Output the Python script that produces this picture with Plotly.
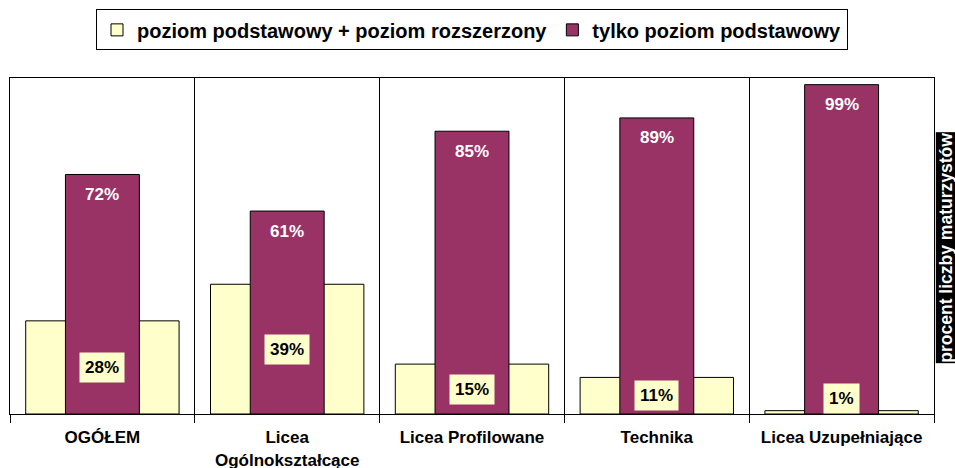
import plotly.graph_objects as go

# data
categories = ["OGÓŁEM", "Licea<br>Ogólnokształcące", "Licea Profilowane", "Technika", "Licea Uzupełniające"]
basic_plus_extended = [28, 39, 15, 11, 1]
basic_only = [72, 61, 85, 89, 99]
series_names = ["poziom podstawowy + poziom rozszerzony", "tylko poziom podstawowy"]

FONT = "Liberation Sans, Arial, sans-serif"
YELLOW = "#FFFFCC"
PURPLE = "#993366"

fig = go.Figure()
fig.add_trace(go.Bar(x=categories, y=basic_plus_extended, name=series_names[0], width=0.83,
                     marker=dict(color=YELLOW, line=dict(color="black", width=1))))
fig.add_trace(go.Bar(x=categories, y=basic_only, name=series_names[1], width=0.4,
                     marker=dict(color=PURPLE, line=dict(color="black", width=1))))

# value labels
for cat, v in zip(categories, basic_only):
    fig.add_annotation(x=cat, y=v, text=f"{v}%", showarrow=False, yanchor="middle", yshift=-20,
                       font=dict(family=FONT, size=17, color="white", weight="bold"))
for cat, v in zip(categories, basic_plus_extended):
    fig.add_annotation(x=cat, y=max(v / 2, 4.8), text=f"{v}%", showarrow=False, yanchor="middle",
                       bgcolor=YELLOW, borderpad=5,
                       font=dict(family=FONT, size=17, color="black", weight="bold"))

# side label
fig.add_annotation(xref="paper", yref="paper", x=1.0, y=0.495, xanchor="left", yanchor="middle",
                   xshift=1, text="procent liczby maturzystów", textangle=-90, showarrow=False,
                   bgcolor="black", borderpad=0,
                   font=dict(family=FONT, size=17.5, color="white", weight="bold"))

fig.update_layout(
    width=955, height=468,
    barmode="overlay",
    plot_bgcolor="white", paper_bgcolor="white",
    margin=dict(l=10, r=21, t=78, b=54),
    font=dict(family=FONT, color="black"),
    legend=dict(orientation="h", x=0.5, xanchor="center", y=0.98, yref="container", yanchor="top",
                bordercolor="black", borderwidth=1, bgcolor="white",
                font=dict(family=FONT, size=20, color="black", weight="bold"),
                itemwidth=30, tracegroupgap=0),
    xaxis=dict(tickson="boundaries", showgrid=True, gridcolor="black", gridwidth=1,
               ticks="outside", ticklen=8, tickcolor="black", ticklabelstandoff=8,
               showline=True, linecolor="black", mirror=True, automargin=False,
               tickfont=dict(family=FONT, size=17, color="black", weight="bold")),
    yaxis=dict(range=[0, 101], showgrid=False, showticklabels=False, zeroline=False,
               showline=True, linecolor="black", mirror=True, fixedrange=True, automargin=False),
)

# drop the default page margin so the figure fills the window
fig.write_html("out.html", config={"displayModeBar": False},
               post_script="document.body.style.margin='0';document.body.style.overflow='hidden';")
